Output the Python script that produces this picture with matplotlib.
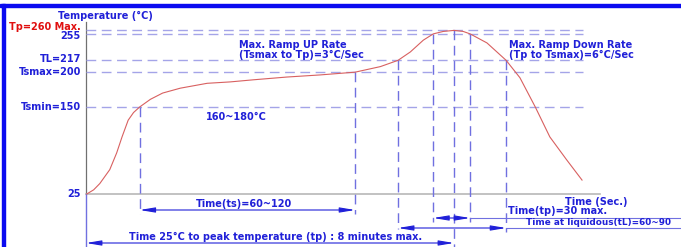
import matplotlib.pyplot as plt
import numpy as np

# reflow profile (time in s, temperature in degC)
prof_t = [1, 10, 18, 31, 40, 47, 55, 62, 70, 84, 100, 123, 158, 188, 218, 262, 305, 351,
          384, 407, 423, 440, 453, 466, 480, 492, 501, 523, 548, 566, 586, 605, 627, 647]
prof_T = [25, 31, 40, 60, 84, 107, 131, 142, 150, 161, 170, 177, 184, 186, 189, 193, 196, 200,
          208, 217, 229, 246, 255, 258.5, 260, 258.5, 255, 242, 217, 192, 150, 107, 74, 45]

levels = [260, 255, 217, 200, 150]
level_labels = ['Tp=260 Max.', '255', 'TL=217', 'Tsmax=200', 'Tsmin=150']
level_colors = ['#e01010', '#2020d8', '#2020d8', '#2020d8', '#2020d8']
label_shift = [3, -2, 1, 0, 0]   # pixel nudge of each level label

# crossing times: Tsmin, Tsmax, TL up, 255 up, peak, 255 down, TL down
t_smin, t_smax, t_L1, t_255a, t_peak, t_255b, t_L2 = 70, 351, 407, 453, 480, 501, 548

W, H = 681, 247
# pixel layout of the plot area: x px = 86 + t*368/480, y px = 194 - (T-25)*0.6962
sx = 368 / 480
sy = 0.6962
fig = plt.figure(figsize=(W / 100, H / 100), dpi=100)
ax = fig.add_axes([0, 0, 1, 1])
ax.set_xlim(-86 / sx, (W - 86) / sx)
ax.set_ylim(25 - (H - 194) / sy, 25 + 194 / sy)
ax.axis('off')

def t_of(px):
    return (px - 86) / sx

def T_of(py):
    return 25 + (194 - py) / sy

blue = '#2020d8'
grid = '#a4a4e8'
plt.rcParams['font.family'] = ['DejaVu Sans']
fs = 7.0
kw = dict(color=blue, fontsize=fs, fontweight='bold', va='center')

# frame bars
fig.add_artist(plt.Rectangle((0, 1 - 7 / H), 1, 2.5 / H, transform=fig.transFigure, color='#0a0af0'))
fig.add_artist(plt.Rectangle((1.5 / W, 0), 3.5 / W, 1 - 4.5 / H, transform=fig.transFigure, color='#0a0af0'))

# axes
ax.plot([0, 0], [25, T_of(22)], color='#707070', lw=0.9)
ax.plot([0, t_of(600)], [25, 25], color='#b8b8b8', lw=1.2)

# horizontal dashed levels
for lv, lab, c, d in zip(levels, level_labels, level_colors, label_shift):
    ax.plot([0, t_of(583)], [lv, lv], color=grid, lw=1.0, dashes=(7, 4))
    ax.text(t_of(81), lv + d / sy, lab, color=c, fontsize=fs, fontweight='bold', ha='right', va='center')
ax.text(t_of(81), 25, '25', ha='right', **kw)

# vertical dashed markers
vert = [(t_smin, 150, T_of(214)), (t_smax, 200, T_of(214)), (t_L1, 217, T_of(229)),
        (t_255a, 255, T_of(222)), (t_peak, 260, T_of(247)), (t_255b, 255, T_of(222)),
        (t_L2, 217, T_of(232))]
for t, top, bot in vert:
    ax.plot([t, t], [top, bot], color='#7070e0', lw=1.0, dashes=(7, 4))
ax.plot([0, 0], [25, T_of(247)], color='#7070e0', lw=1.0)

# profile curve
ax.plot(prof_t, prof_T, color='#d86060', lw=0.8)

# dimension arrows
def dim(t0, t1, T, extend=False):
    ax.annotate('', xy=(t1, T), xytext=(t0, T),
                arrowprops=dict(arrowstyle='<|-|>,head_length=0.9,head_width=0.15',
                                color=blue, lw=0.8, shrinkA=0, shrinkB=0, mutation_scale=10))
    if extend:
        ax.plot([t1, t_of(W)], [T, T], color='#7070e0', lw=0.8)

dim(t_smin, t_smax, T_of(210))
dim(0, t_peak, T_of(243))
dim(t_255a, t_255b, T_of(218), extend=True)
dim(t_L1, t_L2, T_of(228), extend=True)

# labels
ax.text(t_of(58), T_of(16), 'Temperature (°C)', **kw)
ax.text(t_of(206), T_of(117), '160~180°C', **kw)
ax.text(t_of(239), T_of(50), 'Max. Ramp UP Rate\n(Tsmax to Tp)=3°C/Sec', linespacing=0.95, **kw)
ax.text(t_of(509), T_of(50), 'Max. Ramp Down Rate\n(Tp to Tsmax)=6°C/Sec', linespacing=0.95, **kw)
ax.text(t_of(565), T_of(202), 'Time (Sec.)', **kw)
ax.text(t_of(508), T_of(211), 'Time(tp)=30 max.', **kw)
ax.text(t_of(526), T_of(222), 'Time at liquidous(tL)=60~90', color=blue, fontsize=6.4,
        fontweight='bold', va='center')
ax.text(t_of(196), T_of(204), 'Time(ts)=60~120', **kw)
ax.text(t_of(129), T_of(237), 'Time 25°C to peak temperature (tp) : 8 minutes max.', **kw)

fig.savefig('out.png', dpi=100)
